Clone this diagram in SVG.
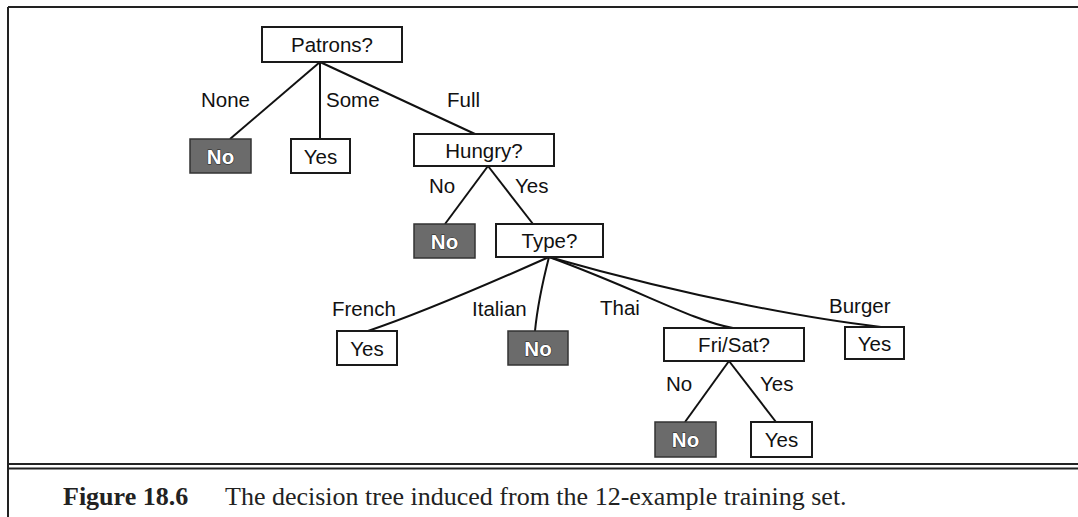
<svg xmlns="http://www.w3.org/2000/svg" width="1078" height="517" viewBox="0 0 1078 517">
<style>
  .frame { stroke: #222; stroke-width: 2; fill: none; }
  .box { fill: #fff; stroke: #1a1a1a; stroke-width: 2; }
  .dark { fill: #6b6b6b; stroke: #333; stroke-width: 1.5; }
  .t { font-family: "Liberation Sans", Arial, sans-serif; font-size: 20.5px; fill: #111; }
  .tm { text-anchor: middle; }
  .tw { font-family: "Liberation Sans", Arial, sans-serif; font-size: 20.5px; font-weight: bold; fill: #fff; stroke: #222; stroke-width: 1; paint-order: stroke; text-anchor: middle; }
  .edge { stroke: #111; stroke-width: 2; fill: none; }
  .cap { font-family: "Liberation Serif", "Times New Roman", serif; font-size: 26px; fill: #222; }
</style>
<rect width="1078" height="517" fill="#fff"/>
<g id="frame">
  <line class="frame" x1="8" y1="7" x2="1078" y2="7"/>
  <line class="frame" x1="8" y1="7" x2="8" y2="517"/>
  <line class="frame" x1="8" y1="464" x2="1078" y2="464"/>
  <line class="frame" x1="8" y1="468.5" x2="1078" y2="468.5"/>
</g>
<g id="connectors">
  <line class="edge" x1="320" y1="62" x2="230" y2="139"/>
  <line class="edge" x1="320" y1="62" x2="320" y2="139"/>
  <line class="edge" x1="320" y1="62" x2="475" y2="134"/>
  <line class="edge" x1="488" y1="166" x2="445" y2="224"/>
  <line class="edge" x1="488" y1="166" x2="533" y2="224"/>
  <path class="edge" d="M549,257 Q430,310 368,331"/>
  <path class="edge" d="M549,257 Q538,300 535,331"/>
  <path class="edge" d="M549,257 C640,290 690,320 733,328"/>
  <path class="edge" d="M549,257 C700,300 820,320 881,327"/>
  <line class="edge" x1="729" y1="361" x2="685" y2="422"/>
  <line class="edge" x1="729" y1="361" x2="776" y2="422"/>
</g>
<g id="labels">
  <text class="t" x="201" y="107">None</text>
  <text class="t" x="326" y="107">Some</text>
  <text class="t" x="447" y="107">Full</text>
  <text class="t" x="429" y="193">No</text>
  <text class="t" x="515" y="193">Yes</text>
  <text class="t" x="332" y="316">French</text>
  <text class="t" x="472" y="316">Italian</text>
  <text class="t" x="600" y="315">Thai</text>
  <text class="t" x="829" y="313">Burger</text>
  <text class="t" x="666" y="391">No</text>
  <text class="t" x="760" y="391">Yes</text>
</g>
<g id="patrons"><rect class="box" x="262" y="27" width="140" height="35"/><text class="t tm" x="332" y="52">Patrons?</text></g>
<g id="none-no"><rect class="dark" x="190" y="139" width="61" height="34"/><text class="tw" x="220.5" y="163.5">No</text></g>
<g id="some-yes"><rect class="box" x="291" y="139" width="59" height="34"/><text class="t tm" x="320.5" y="163.5">Yes</text></g>
<g id="hungry"><rect class="box" x="414" y="134" width="140" height="32"/><text class="t tm" x="484" y="157.5">Hungry?</text></g>
<g id="hungry-no"><rect class="dark" x="414" y="224" width="61" height="34"/><text class="tw" x="444.5" y="248.5">No</text></g>
<g id="type"><rect class="box" x="496" y="224" width="107" height="33"/><text class="t tm" x="549.5" y="248">Type?</text></g>
<g id="french-yes"><rect class="box" x="337" y="331" width="60" height="34"/><text class="t tm" x="367" y="355.5">Yes</text></g>
<g id="italian-no"><rect class="dark" x="508" y="331" width="60" height="34"/><text class="tw" x="538" y="355.5">No</text></g>
<g id="frisat"><rect class="box" x="664" y="328" width="140" height="33"/><text class="t tm" x="734" y="352">Fri/Sat?</text></g>
<g id="burger-yes"><rect class="box" x="845" y="327" width="59" height="32"/><text class="t tm" x="874.5" y="350.5">Yes</text></g>
<g id="frisat-no"><rect class="dark" x="655" y="422" width="61" height="35"/><text class="tw" x="685.5" y="447">No</text></g>
<g id="frisat-yes"><rect class="box" x="751" y="422" width="61" height="35"/><text class="t tm" x="781.5" y="447">Yes</text></g>
<g id="caption">
  <text class="cap" x="63" y="505" font-weight="bold">Figure 18.6</text>
  <text class="cap" x="225" y="505">The decision tree induced from the 12-example training set.</text>
</g>
</svg>
